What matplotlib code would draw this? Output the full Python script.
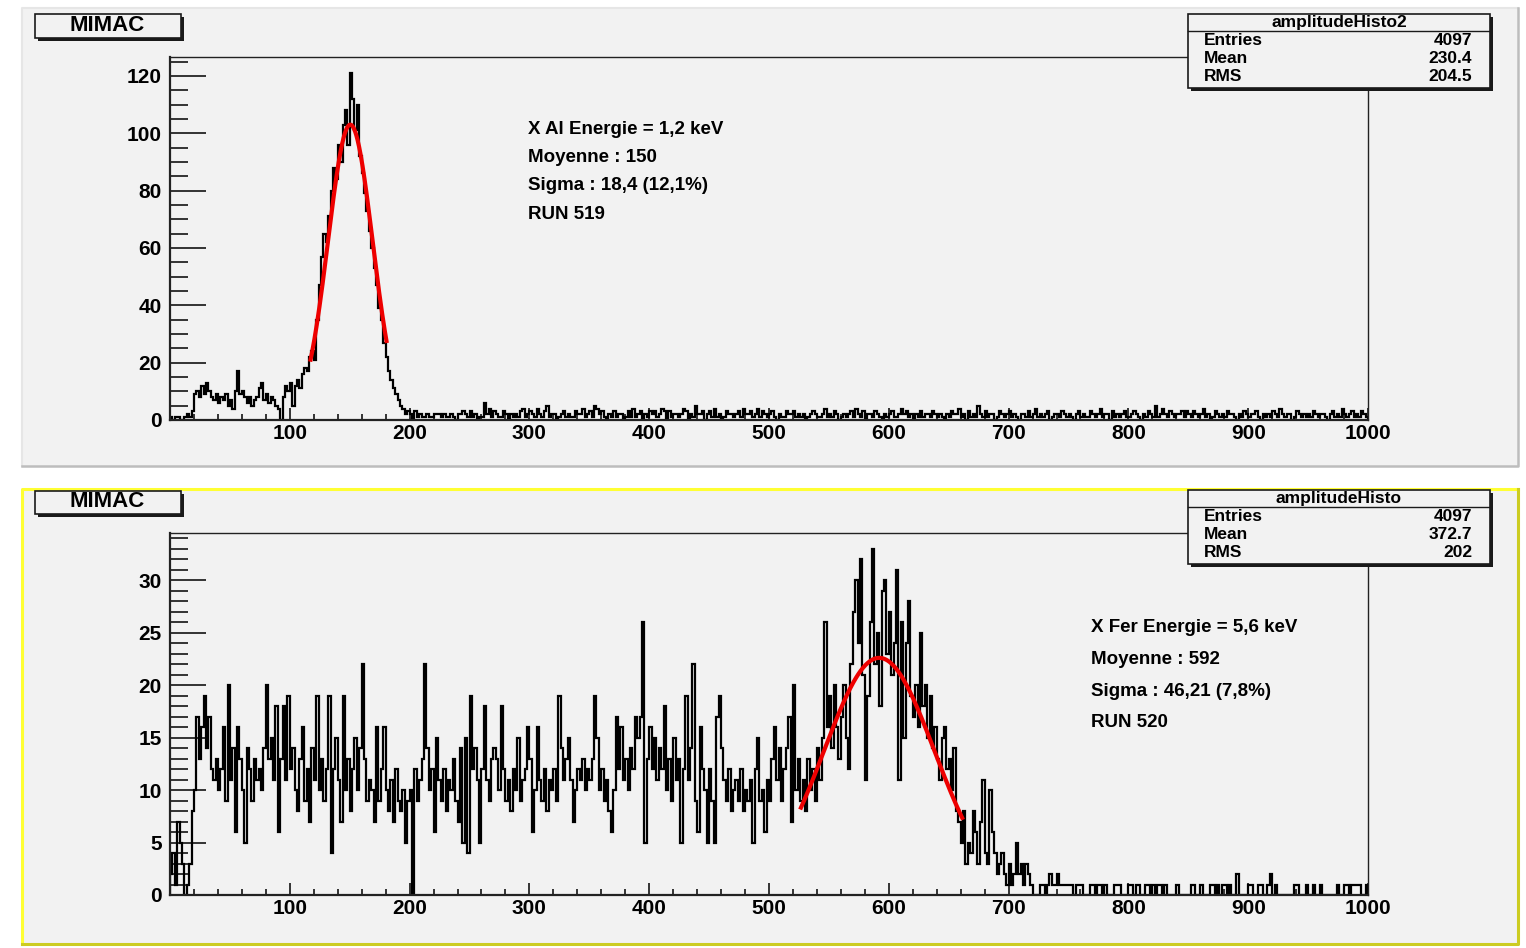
import numpy as np
import matplotlib
matplotlib.use("Agg")
import matplotlib.pyplot as plt
from matplotlib.patches import Rectangle
from matplotlib.lines import Line2D
from matplotlib.ticker import MultipleLocator

plt.rcParams['font.family'] = ['Liberation Sans', 'DejaVu Sans']
plt.rcParams['font.weight'] = 'bold'

# ---------------- data (bin width 2, range 0-1000) ----------------
bin_width = 2
x_min, x_max = 0, 1000

# RUN 519 - amplitudeHisto2
top_counts = [
    1, 0, 1, 1, 0, 0, 1, 2, 1, 3, 9, 10, 8, 12, 9, 13, 10, 8, 7, 9, 6, 8, 7, 9, 5,
    7, 4, 10, 17, 9, 10, 8, 6, 8, 5, 7, 8, 11, 13, 7, 9, 6, 8, 7, 5, 4, 0, 8, 12, 10,
    13, 5, 12, 14, 11, 16, 18, 17, 22, 24, 21, 35, 47, 57, 65, 62, 71, 80, 88, 84, 96, 90, 103, 108, 96,
    121, 112, 101, 110, 92, 86, 79, 73, 66, 60, 53, 47, 39, 35, 27, 22, 17, 14, 11, 9, 7, 5, 4, 2, 3,
    2, 0, 3, 1, 2, 1, 1, 2, 1, 1, 2, 2, 2, 1, 2, 1, 1, 2, 1, 0, 2, 2, 3, 2, 1,
    3, 1, 2, 0, 1, 1, 6, 2, 4, 1, 3, 2, 1, 1, 3, 2, 0, 2, 1, 2, 1, 3, 4, 1, 2,
    3, 2, 1, 4, 2, 1, 3, 5, 1, 2, 2, 0, 1, 2, 3, 1, 2, 1, 1, 3, 2, 2, 4, 1, 2,
    3, 1, 5, 4, 2, 3, 1, 0, 2, 1, 3, 1, 2, 2, 0, 1, 3, 1, 4, 1, 2, 3, 0, 2, 1,
    3, 2, 3, 1, 2, 4, 3, 0, 3, 1, 2, 2, 1, 2, 4, 3, 0, 2, 1, 5, 2, 2, 3, 0, 2,
    3, 1, 4, 1, 2, 0, 1, 3, 2, 2, 1, 2, 3, 1, 4, 2, 2, 3, 1, 2, 4, 1, 3, 2, 1,
    2, 3, 1, 0, 2, 1, 1, 3, 2, 2, 3, 1, 2, 1, 2, 0, 1, 2, 3, 2, 1, 1, 2, 4, 1,
    2, 1, 3, 2, 0, 1, 2, 1, 2, 3, 1, 4, 2, 1, 3, 0, 2, 2, 1, 3, 2, 1, 0, 2, 1,
    2, 3, 1, 1, 2, 4, 2, 3, 1, 2, 0, 2, 1, 3, 1, 2, 2, 1, 3, 2, 1, 2, 1, 0, 2,
    1, 3, 2, 2, 4, 1, 2, 0, 3, 1, 2, 1, 5, 2, 1, 3, 1, 2, 2, 0, 1, 3, 2, 1, 2,
    3, 1, 2, 1, 0, 2, 2, 1, 3, 1, 2, 4, 1, 2, 1, 2, 3, 0, 1, 2, 2, 1, 3, 2, 1,
    2, 1, 0, 2, 3, 1, 2, 1, 1, 3, 2, 1, 2, 4, 1, 2, 2, 0, 3, 1, 2, 1, 2, 3, 1,
    1, 2, 3, 2, 1, 0, 2, 1, 3, 2, 1, 5, 1, 2, 4, 2, 1, 3, 2, 1, 2, 2, 3, 1, 3,
    2, 1, 3, 2, 1, 2, 4, 1, 2, 0, 1, 3, 2, 1, 2, 1, 3, 2, 2, 1, 0, 2, 1, 3, 2,
    1, 2, 2, 3, 1, 0, 2, 1, 2, 1, 3, 2, 1, 4, 2, 1, 2, 2, 0, 1, 3, 2, 1, 2, 1,
    2, 1, 3, 2, 1, 2, 2, 1, 0, 2, 3, 1, 2, 1, 4, 2, 1, 2, 3, 1, 2, 1, 3, 2, 1,
]

# RUN 520 - amplitudeHisto
bottom_counts = [
    2, 4, 1, 7, 5, 3, 0, 1, 3, 8, 10, 17, 13, 16, 19, 14, 17, 12, 11, 13, 10, 12, 16, 9, 20,
    11, 14, 6, 16, 13, 10, 5, 14, 12, 9, 13, 11, 12, 10, 14, 20, 13, 15, 11, 18, 6, 13, 18, 11, 19,
    12, 14, 10, 8, 13, 16, 9, 12, 7, 14, 11, 19, 10, 13, 9, 12, 19, 4, 12, 15, 11, 7, 19, 10, 13,
    8, 12, 15, 10, 14, 22, 13, 9, 11, 10, 7, 16, 9, 12, 16, 10, 8, 11, 7, 12, 9, 8, 10, 5, 9,
    10, 0, 12, 9, 11, 13, 22, 14, 10, 12, 6, 15, 11, 9, 12, 8, 11, 10, 13, 9, 7, 14, 5, 15, 4,
    19, 12, 14, 11, 5, 12, 18, 11, 9, 13, 14, 13, 10, 18, 12, 9, 11, 8, 12, 10, 15, 9, 11, 12, 16,
    13, 6, 10, 16, 11, 9, 12, 8, 11, 10, 12, 9, 19, 14, 11, 13, 15, 11, 7, 10, 12, 11, 13, 10, 12,
    11, 13, 19, 15, 10, 12, 9, 11, 8, 6, 10, 17, 12, 16, 11, 13, 10, 14, 12, 17, 15, 17, 26, 5, 13,
    16, 12, 15, 11, 14, 12, 18, 10, 13, 9, 15, 11, 13, 5, 12, 19, 11, 14, 22, 9, 6, 16, 12, 10, 5,
    12, 9, 5, 17, 19, 14, 11, 9, 12, 8, 10, 11, 9, 12, 8, 10, 9, 11, 5, 12, 15, 9, 10, 6, 11,
    9, 13, 16, 11, 14, 9, 12, 14, 17, 7, 20, 10, 13, 9, 11, 8, 13, 10, 12, 9, 14, 11, 15, 26, 16,
    19, 14, 20, 16, 13, 17, 20, 15, 12, 22, 27, 30, 24, 32, 21, 11, 19, 26, 33, 22, 25, 18, 29, 30, 23,
    27, 21, 24, 31, 11, 26, 15, 24, 28, 19, 17, 20, 16, 25, 18, 20, 15, 19, 14, 16, 13, 11, 15, 16, 12,
    13, 10, 14, 8, 7, 5, 8, 3, 5, 4, 8, 6, 3, 7, 11, 4, 3, 10, 6, 4, 2, 3, 4, 2, 1,
    3, 1, 2, 5, 2, 3, 1, 3, 2, 1, 0, 0, 0, 1, 1, 0, 1, 2, 1, 1, 2, 1, 1, 1, 1,
    1, 1, 0, 1, 1, 1, 0, 0, 0, 1, 1, 0, 1, 1, 0, 1, 0, 0, 0, 1, 1, 1, 0, 0, 0,
    1, 1, 0, 1, 1, 0, 0, 1, 1, 0, 1, 0, 1, 1, 0, 1, 0, 0, 0, 0, 1, 0, 0, 0, 0,
    0, 1, 1, 0, 0, 1, 0, 0, 0, 1, 1, 0, 1, 0, 1, 1, 0, 1, 0, 0, 2, 0, 0, 0, 0,
    1, 1, 0, 0, 1, 1, 0, 0, 1, 2, 0, 1, 0, 0, 0, 0, 0, 0, 0, 1, 1, 0, 0, 0, 1,
    0, 0, 1, 0, 0, 1, 0, 0, 0, 0, 0, 0, 1, 0, 0, 1, 1, 0, 1, 1, 1, 1, 0, 0, 1,
]

# gaussian fits: amplitude, mean, sigma, fit range
top_fit = dict(amp=103.0, mean=150.5, sigma=18.6, lo=117, hi=181)
bottom_fit = dict(amp=22.6, mean=592.0, sigma=46.21, lo=526, hi=662)

top_stats = ["amplitudeHisto2", "4097", "230.4", "204.5"]
bottom_stats = ["amplitudeHisto", "4097", "372.7", "202"]
top_notes = ["X Al Energie = 1,2 keV", "Moyenne : 150", "Sigma : 18,4 (12,1%)", "RUN 519"]
bottom_notes = ["X Fer Energie = 5,6 keV", "Moyenne : 592", "Sigma : 46,21 (7,8%)", "RUN 520"]

# ---------------- figure ----------------
W, H = 1526, 948
fig = plt.figure(figsize=(W / 100, H / 100), dpi=100, facecolor='white')
BG = '#f2f2f2'
TXT = 13.5
STAT_TXT = 12.5


def fx(x):
    return x / W


def fy(y):
    return 1 - y / H


def fig_rect(x0, y0, x1, y1, **kw):
    r = Rectangle((fx(x0), fy(y1)), (x1 - x0) / W, (y1 - y0) / H,
                  transform=fig.transFigure, **kw)
    fig.add_artist(r)
    return r


def fig_line(xs, ys, **kw):
    fig.add_artist(Line2D([fx(x) for x in xs], [fy(y) for y in ys],
                          transform=fig.transFigure, **kw))


def shadow_box(x0, y0, x1, y1):
    fig_rect(x0 + 3, y0 + 3, x1 + 3, y1 + 3, fc='#1a1a1a', ec='none', zorder=5)
    fig_rect(x0, y0, x1, y1, fc=BG, ec='#1a1a1a', lw=1.2, zorder=6)


def stats_box(top, labels):
    x0, x1 = 1188, 1490
    shadow_box(x0, top, x1, top + 74)
    fig_line([x0, x1], [top + 17, top + 17], color='#1a1a1a', lw=1.0, zorder=7)
    fig.text(fx((x0 + x1) / 2), fy(top + 8.5), labels[0], ha='center', va='center',
             fontsize=STAT_TXT, zorder=7)
    for i, name in enumerate(["Entries", "Mean", "RMS"]):
        yy = top + 26.5 + 18 * i
        fig.text(fx(1204), fy(yy), name, ha='left', va='center', fontsize=STAT_TXT, zorder=7)
        fig.text(fx(1472), fy(yy), labels[i + 1], ha='right', va='center',
                 fontsize=STAT_TXT, zorder=7)


def pad(y0, y1, border):
    fig_rect(22, y0, 1518, y1, fc=BG, ec='none', zorder=-2)
    if border == 'yellow':
        fig_line([22, 22, 1518], [y1, y0, y0], color='#ffff33', lw=2.2, zorder=-1)
        fig_line([22, 1518, 1518], [y1, y1, y0], color='#cccc22', lw=2.2, zorder=-1)
    else:
        fig_line([22, 22, 1518], [y1, y0, y0], color='#e6e6e6', lw=1.5, zorder=-1)
        fig_line([22, 1518, 1518], [y1, y1, y0], color='#bdbdbd', lw=1.8, zorder=-1)


def hist_axes(rect_px, counts, fit, ymax, ymajor, yminor):
    left, top, right, bottom = rect_px
    ax = fig.add_axes([fx(left), fy(bottom), (right - left) / W, (bottom - top) / H])
    ax.set_facecolor('none')
    edges = np.arange(x_min, x_max + bin_width, bin_width)
    ax.stairs(counts, edges, color='black', lw=1.6)
    xs = np.linspace(fit['lo'], fit['hi'], 200)
    ys = fit['amp'] * np.exp(-0.5 * ((xs - fit['mean']) / fit['sigma']) ** 2)
    ax.plot(xs, ys, color='#ee0000', lw=3.0, solid_capstyle='butt')
    ax.set_xlim(x_min, x_max)
    ax.set_ylim(0, ymax)
    ax.set_xticks(np.arange(100, 1001, 100))
    ax.xaxis.set_minor_locator(MultipleLocator(20))
    ax.yaxis.set_major_locator(MultipleLocator(ymajor))
    ax.yaxis.set_minor_locator(MultipleLocator(yminor))
    ax.tick_params(axis='y', which='major', direction='in', length=26, width=1.1,
                   labelsize=15, pad=6, right=False)
    ax.tick_params(axis='y', which='minor', direction='in', length=13, width=1.1, right=False)
    ax.tick_params(axis='x', which='major', direction='in', length=8.5, width=1.1,
                   labelsize=15, pad=3, top=False)
    ax.tick_params(axis='x', which='minor', direction='in', length=4.3, width=1.1, top=False)
    for s in ['left', 'bottom']:
        ax.spines[s].set_linewidth(1.6)
        ax.spines[s].set_color('#222222')
    for s in ['top', 'right']:
        ax.spines[s].set_linewidth(1.0)
        ax.spines[s].set_color('#222222')
    return ax


# top pad
pad(8, 466, 'grey')
hist_axes((170, 57, 1368, 420), top_counts, top_fit, 126.6, 20, 5)
shadow_box(35, 14, 181, 38)
fig.text(fx(107), fy(25.5), "MIMAC", ha='center', va='center', fontsize=16, zorder=7)
stats_box(14, top_stats)
for i, t in enumerate(top_notes):
    fig.text(fx(528), fy(129 + 28.5 * i), t, ha='left', va='center', fontsize=TXT)

# bottom pad
pad(489, 944, 'yellow')
hist_axes((170, 533, 1368, 895), bottom_counts, bottom_fit, 34.5, 5, 1)
shadow_box(35, 491, 181, 514)
fig.text(fx(107), fy(501.5), "MIMAC", ha='center', va='center', fontsize=16, zorder=7)
stats_box(490, bottom_stats)
for i, t in enumerate(bottom_notes):
    fig.text(fx(1091), fy(628 + 31.5 * i), t, ha='left', va='center', fontsize=TXT)

fig.savefig("out.png", dpi=100, facecolor=fig.get_facecolor())
